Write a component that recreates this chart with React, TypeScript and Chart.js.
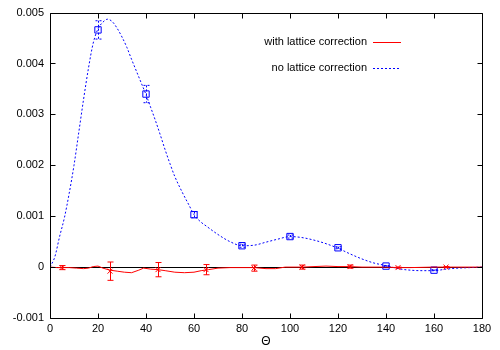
import React, { useEffect, useRef } from "react";
import { Chart, registerables } from "chart.js";

Chart.register(...registerables);

// ---- data ----
const xTicks = [0, 20, 40, 60, 80, 100, 120, 140, 160, 180];
const yTicks = [-0.001, 0, 0.001, 0.002, 0.003, 0.004, 0.005];

const blueCurveX = [0, 2, 4, 6, 8, 10, 12, 14, 16, 18, 20, 22, 24, 26, 28, 30, 32, 34, 36, 38, 40, 42, 44, 46, 48, 50, 52, 55, 58, 60, 63, 65, 70, 75, 80, 85, 90, 95, 100, 105, 110, 115, 120, 125, 130, 135, 140, 145, 150, 155, 160, 165, 170, 175, 180];
const blueCurveY = [0, 0.0002, 0.0006, 0.00097, 0.00145, 0.002, 0.00265, 0.0033, 0.0039, 0.0044, 0.00468, 0.00481, 0.00487, 0.00482, 0.00469, 0.00452, 0.00432, 0.00408, 0.00385, 0.00362, 0.00339, 0.00313, 0.00287, 0.00259, 0.0023, 0.00203, 0.00178, 0.00148, 0.00121, 0.00103, 0.00088, 0.00081, 0.00064, 0.0005, 0.00042, 0.00043, 0.00049, 0.00055, 0.0006, 0.00058, 0.00053, 0.00046, 0.00037, 0.00026, 0.00016, 0.00008, 0.00003, -0.00003, -0.00006, -0.00007, -0.00007, -0.00004, -0.00002, -0.00001, 0];

const redCurveX = [0, 3, 5, 8, 11, 14, 16, 18, 20, 22, 25, 28, 31, 34, 37, 39, 42, 45, 48, 52, 56, 60, 63, 66, 70, 75, 80, 85, 90, 94, 98, 105, 110, 115, 120, 125, 130, 140, 145, 150, 160, 170, 180];
const redCurveY = [0, -0.00001, -0.00001, -0.00001, -0.00002, -0.00003, -0.00002, 0.00001, 0.00002, -0.00002, -0.00006, -0.00008, -0.0001, -0.00011, -0.00006, -0.00002, -0.00004, -0.00005, -0.00007, -0.0001, -0.00011, -0.0001, -0.00007, -0.00005, -0.00002, -0.00001, -0.00001, -0.00001, -0.00003, -0.00003, 0, 0, 0.00001, 0.00002, 0.00001, 0.00001, 0, 0, -0.00001, -0.00001, 0, 0, 0];

const blueMarkX = [20, 40, 60, 80, 100, 120, 140, 160];
const blueMarkY = [0.00466, 0.0034, 0.00103, 0.00042, 0.0006, 0.00038, 0.00002, -0.00006];
const blueMarkErr = [0.00018, 0.00017, 0.00006, 0.00003, 0.00003, 0.00002, 0.00001, 0.00001];

const redMarkX = [5, 25, 45, 65, 85, 105, 125, 145, 165];
const redMarkY = [-0.00001, -0.00008, -0.00005, -0.00005, -0.00002, 0, 0.00001, -0.00001, 0];
const redMarkErr = [0.00004, 0.00018, 0.00014, 0.0001, 0.00006, 0.00004, 0.00003, 0.00001, 0.00001];

const legendLabels = ["with lattice correction", "no lattice correction"];
const axisTitle = "Θ";

const RED = "#ff0000";
const BLUE = "#0000ff";
const FONT = "'Liberation Sans', Arial, Helvetica, sans-serif";

const zip = (xs: number[], ys: number[]) => xs.map((x, i) => ({ x, y: ys[i] }));

const framePlugin = {
  id: "gnuframe",
  beforeDatasetsDraw(chart: any) {
    const { ctx, chartArea: a, scales } = chart;
    const y0 = Math.round(scales.y.getPixelForValue(0)) + 0.5;
    ctx.save();
    ctx.strokeStyle = "#000";
    ctx.lineWidth = 1;
    ctx.beginPath();
    ctx.moveTo(a.left, y0);
    ctx.lineTo(a.right, y0);
    ctx.stroke();
    ctx.restore();
  },
  afterDatasetsDraw(chart: any) {
    const { ctx, scales } = chart;
    const xs = scales.x;
    const ys = scales.y;
    ctx.save();
    const drawBars = (X: number[], Y: number[], E: number[], color: string, dash: number[]) => {
      ctx.strokeStyle = color;
      ctx.lineWidth = 1;
      ctx.setLineDash(dash);
      X.forEach((xv, i) => {
        const px = Math.round(xs.getPixelForValue(xv)) + 0.5;
        const top = ys.getPixelForValue(Y[i] + E[i]);
        const bot = ys.getPixelForValue(Y[i] - E[i]);
        ctx.beginPath();
        ctx.moveTo(px, top);
        ctx.lineTo(px, bot);
        ctx.moveTo(px - 3, top);
        ctx.lineTo(px + 3, top);
        ctx.moveTo(px - 3, bot);
        ctx.lineTo(px + 3, bot);
        ctx.stroke();
      });
      ctx.setLineDash([]);
    };
    drawBars(redMarkX, redMarkY, redMarkErr, RED, []);
    drawBars(blueMarkX, blueMarkY, blueMarkErr, BLUE, [2, 2]);
    ctx.restore();
  },
  afterDraw(chart: any) {
    const { ctx, chartArea: a, scales } = chart;
    const xs = scales.x;
    const ys = scales.y;
    ctx.save();
    ctx.strokeStyle = "#000";
    ctx.lineWidth = 1;
    const L = Math.round(a.left) + 0.5;
    const R = Math.round(a.right) + 0.5;
    const T = Math.round(a.top) + 0.5;
    const B = Math.round(a.bottom) + 0.5;
    ctx.beginPath();
    ctx.rect(L, T, R - L, B - T);
    const tl = 5;
    xTicks.forEach((v) => {
      const px = Math.round(xs.getPixelForValue(v)) + 0.5;
      ctx.moveTo(px, B);
      ctx.lineTo(px, B - tl);
      ctx.moveTo(px, T);
      ctx.lineTo(px, T + tl);
    });
    yTicks.forEach((v) => {
      const py = Math.round(ys.getPixelForValue(v)) + 0.5;
      ctx.moveTo(L, py);
      ctx.lineTo(L + tl, py);
      ctx.moveTo(R, py);
      ctx.lineTo(R - tl, py);
    });
    ctx.stroke();

    ctx.fillStyle = "#000";
    ctx.font = `12px ${FONT}`;
    ctx.textAlign = "center";
    ctx.textBaseline = "middle";
    ctx.fillText(axisTitle, (a.left + a.right) / 2, 342);

    ctx.font = `11px ${FONT}`;
    ctx.textAlign = "right";
    const rows = [
      { y: 42, color: RED, dash: [] as number[] },
      { y: 68, color: BLUE, dash: [2, 2] },
    ];
    rows.forEach((r, i) => {
      ctx.fillText(legendLabels[i], 367, r.y);
      ctx.strokeStyle = r.color;
      ctx.setLineDash(r.dash);
      ctx.beginPath();
      ctx.moveTo(373, r.y + 0.5);
      ctx.lineTo(401, r.y + 0.5);
      ctx.stroke();
    });
    ctx.setLineDash([]);
    ctx.restore();
  },
};

export default function App() {
  const ref = useRef<HTMLCanvasElement | null>(null);
  useEffect(() => {
    document.body.style.margin = "0";
    const chart = new Chart(ref.current as HTMLCanvasElement, {
      type: "line",
      data: {
        datasets: [
          {
            label: legendLabels[0],
            data: zip(redCurveX, redCurveY),
            borderColor: RED,
            borderWidth: 1,
            pointRadius: 0,
            tension: 0,
            fill: false,
          },
          {
            label: legendLabels[1],
            data: zip(blueCurveX, blueCurveY),
            borderColor: BLUE,
            borderWidth: 1,
            borderDash: [2, 2],
            pointRadius: 0,
            cubicInterpolationMode: "monotone",
            fill: false,
          },
          {
            label: "red points",
            data: zip(redMarkX, redMarkY),
            showLine: false,
            pointStyle: "crossRot",
            pointRadius: 3.5,
            borderColor: RED,
            borderWidth: 1,
            backgroundColor: "transparent",
          },
          {
            label: "blue points",
            data: zip(blueMarkX, blueMarkY),
            showLine: false,
            pointStyle: "rect",
            pointRadius: 4.5,
            borderColor: BLUE,
            borderWidth: 1,
            backgroundColor: "transparent",
          },
        ],
      } as any,
      options: {
        responsive: false,
        animation: false,
        events: [],
        layout: { padding: { top: 11, right: 18, left: 0, bottom: 0 } },
        plugins: { legend: { display: false }, tooltip: { enabled: false } },
        scales: {
          x: {
            type: "linear",
            min: 0,
            max: 180,
            afterBuildTicks: (s: any) => {
              s.ticks = xTicks.map((v) => ({ value: v }));
            },
            afterFit: (s: any) => {
              s.height = 32;
            },
            ticks: {
              color: "#000",
              font: { family: FONT, size: 11 },
              padding: 4,
              maxRotation: 0,
              autoSkip: false,
            },
            grid: { display: false, drawTicks: false },
            border: { display: false },
          },
          y: {
            type: "linear",
            min: -0.001,
            max: 0.005,
            afterBuildTicks: (s: any) => {
              s.ticks = yTicks.map((v) => ({ value: v }));
            },
            afterFit: (s: any) => {
              s.width = 50;
            },
            ticks: {
              color: "#000",
              font: { family: FONT, size: 11 },
              padding: 6,
              callback: (v: any) => String(Math.round(Number(v) * 1000) / 1000),
            },
            grid: { display: false, drawTicks: false },
            border: { display: false },
          },
        },
      } as any,
      plugins: [framePlugin],
    });
    return () => chart.destroy();
  }, []);
  return (
    <div style={{ position: "absolute", left: 0, top: 0, width: 500, height: 350 }}>
      <canvas ref={ref} width={500} height={350} />
    </div>
  );
}
